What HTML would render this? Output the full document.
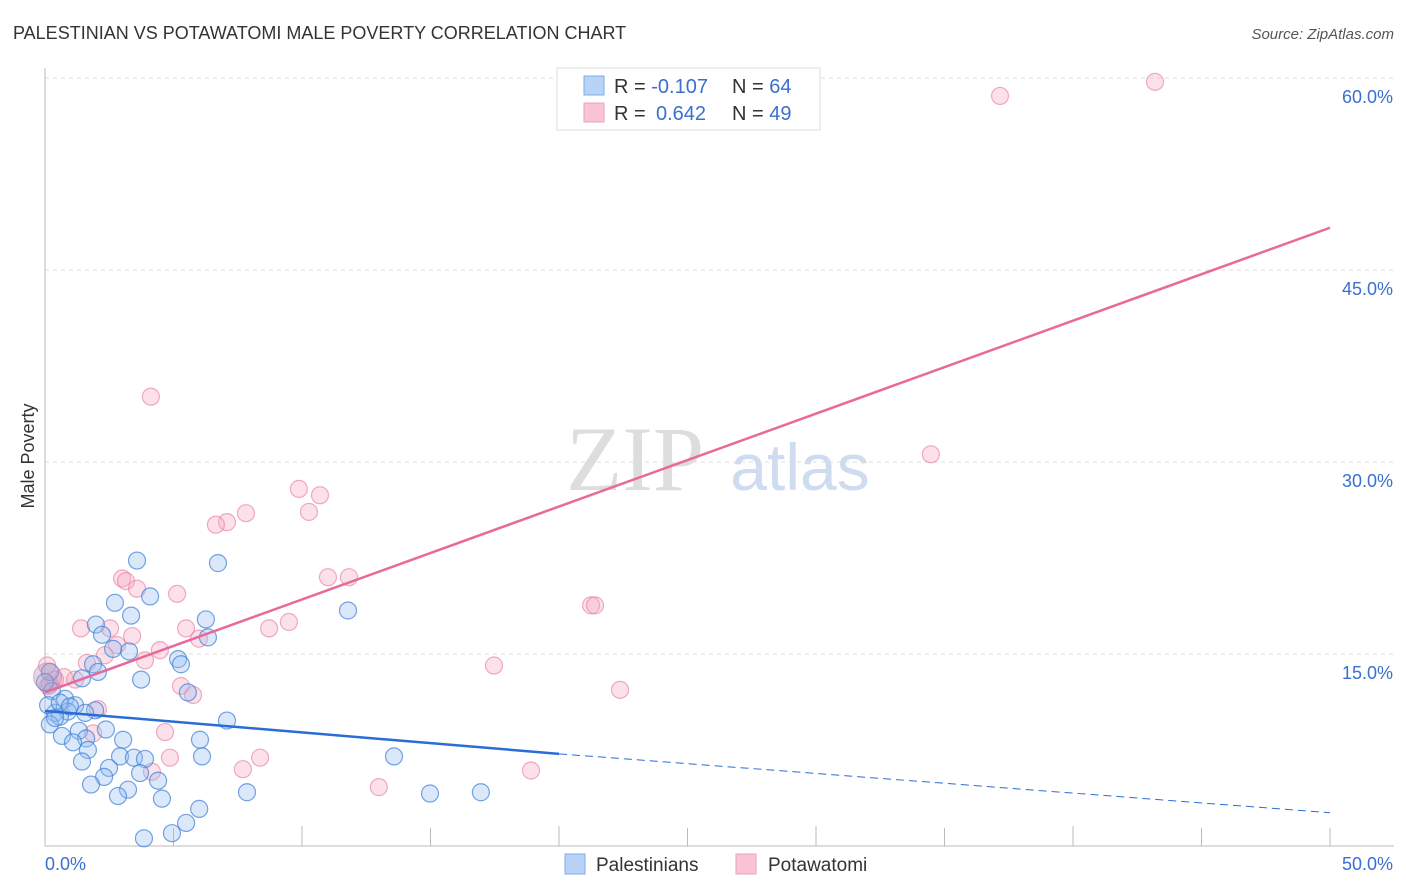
<!DOCTYPE html>
<html><head><meta charset="utf-8"><style>
body{margin:0;background:#fff;font-family:"Liberation Sans",sans-serif}
svg{display:block}
</style></head><body>
<svg id="c" width="1406" height="892">
<text x="13" y="39" font-size="18" fill="#333">PALESTINIAN VS POTAWATOMI MALE POVERTY CORRELATION CHART</text>
<text x="1394" y="39" font-size="15" fill="#555" text-anchor="end" font-style="italic">Source: ZipAtlas.com</text>
<text x="34" y="456" font-size="18" fill="#333" text-anchor="middle" transform="rotate(-90 34 456)">Male Poverty</text>
<g><text x="635" y="490" font-size="92" fill="#ddd" text-anchor="middle" font-family="Liberation Serif,serif">ZIP</text><text x="800" y="490" font-size="66" fill="#cfdcf0" text-anchor="middle">atlas</text></g>
<g id="grid"></g><g id="axes"></g><g id="pts"></g><g id="trend"></g>
<g>
<rect x="557" y="68" width="263" height="62" fill="#fff" stroke="#ddd"/>
<rect x="584" y="76" width="20" height="19" fill="#b8d3f5" stroke="#7aaee8"/>
<rect x="584" y="103" width="20" height="19" fill="#f9c4d4" stroke="#eea0b8"/>
<text x="614" y="93" font-size="20" fill="#333">R = <tspan fill="#3a6fd0">-0.107</tspan><tspan x="732">N = </tspan><tspan fill="#3a6fd0">64</tspan></text>
<text x="614" y="120" font-size="20" fill="#333">R = <tspan x="656" fill="#3a6fd0">0.642</tspan><tspan x="732">N = </tspan><tspan fill="#3a6fd0">49</tspan></text>
</g>
<g>
<rect x="565" y="854" width="20" height="20" fill="#b8d3f5" stroke="#7aaee8"/>
<text x="596" y="871" font-size="19" fill="#333">Palestinians</text>
<rect x="736" y="854" width="20" height="20" fill="#f9c4d4" stroke="#eea0b8"/>
<text x="768" y="871" font-size="19" fill="#333">Potawatomi</text>
</g>
</svg>
<script>
const yTicks=[15,30,45,60];
const yTickLabels=["15.0%","30.0%","45.0%","60.0%"];
const xTicks=[0,5,10,15,20,25,30,35,40,45,50];
const blueX=[3.58,6.73,2.72,3.35,4.09,11.79,1.98,2.22,6.26,6.34,3.27,2.65,1.87,2.06,5.18,5.29,3.74,1.44,5.56,0.27,0.78,0.39,1.17,0.89,0.58,1.95,2.37,7.08,1.32,0.66,0.19,1.6,3.04,6.03,1.09,1.67,2.92,3.46,3.89,6.11,13.58,1.44,2.49,2.3,3.7,4.4,1.79,3.23,2.84,4.55,7.86,14.98,16.96,6.0,5.49,3.85,4.94,0.39,0.12,0.58,0.97,1.56,0.19,0.0];
const blueY=[22.3,22.1,19.0,18.0,19.5,18.4,17.3,16.5,17.7,16.3,15.2,15.4,14.2,13.6,14.6,14.2,13.0,13.1,12.0,12.1,11.5,10.4,11.0,10.5,10.1,10.6,9.1,9.8,9.0,8.6,9.5,8.4,8.3,8.3,8.1,7.5,7.0,6.9,6.8,7.0,7.0,6.6,6.1,5.4,5.7,5.1,4.8,4.4,3.9,3.7,4.2,4.1,4.2,2.9,1.8,0.6,1.0,10.0,11.0,11.2,10.9,10.4,13.6,12.8];
const pinkX=[43.19,37.16,4.12,34.47,9.88,10.7,7.82,7.08,6.65,10.27,3.0,3.15,3.58,11.01,11.83,5.14,21.25,21.4,1.4,2.53,8.72,9.49,5.49,3.39,2.8,5.99,4.47,2.33,3.89,1.63,0.08,0.74,0.19,0.39,17.47,5.29,5.76,22.375,2.06,4.67,1.87,4.86,8.37,7.7,4.16,18.91,12.99,1.17,0.12];
const pinkY=[59.7,58.6,35.1,30.6,27.9,27.4,26.0,25.3,25.1,26.1,20.9,20.7,20.1,21.0,21.0,19.7,18.8,18.8,17.0,17.0,17.0,17.5,17.0,16.4,15.7,16.2,15.3,14.9,14.5,14.3,14.1,13.2,12.6,13.0,14.1,12.5,11.8,12.2,10.7,8.9,8.8,6.9,6.9,6.0,5.8,5.9,4.6,13.0,12.5];
const blueTrend=[[0,10.55],[20,7.2]], blueDash=[[20,7.2],[50,2.6]];
const pinkTrend=[[0,12.0],[50,48.3]];
const NS="http://www.w3.org/2000/svg";
const X=v=>45+v/50*1285, Y=v=>846-v/15*192;
function mk(t,a,p){const e=document.createElementNS(NS,t);for(const k in a)e.setAttribute(k,a[k]);p.appendChild(e);return e;}
const grid=document.getElementById('grid'),axes=document.getElementById('axes'),pts=document.getElementById('pts'),tr=document.getElementById('trend');
yTicks.forEach((t,i)=>{const l=mk('line',{x1:45,x2:1394,y1:Y(t),y2:Y(t),stroke:'#ddd','stroke-dasharray':'4,4'},grid);


const tx=mk('text',{x:1393,y:Y(t)+25,'font-size':18,fill:'#3a6fd0','text-anchor':'end'},axes);tx.textContent=yTickLabels[i];

});
mk('line',{x1:45,x2:45,y1:68,y2:846,stroke:'#bbb'},axes);
mk('line',{x1:45,x2:1394,y1:846,y2:846,stroke:'#bbb'},axes);
xTicks.forEach(t=>{const l=mk('line',{x1:X(t),x2:X(t),y1:846,y2:t%10==0&&t>0&&t<50?826:828,stroke:'#bbb'},axes);

});
let a=mk('text',{x:45,y:870,'font-size':18,fill:'#3a6fd0'},axes);a.textContent='0.0%';


a=mk('text',{x:1393,y:870,'font-size':18,fill:'#3a6fd0','text-anchor':'end'},axes);a.textContent='50.0%';


pinkX.forEach((v,i)=>{const c=mk('circle',{cx:X(v),cy:Y(pinkY[i]),r:8.5,fill:'rgba(247,170,195,0.35)',stroke:'rgba(230,120,155,0.6)','stroke-width':1.2},pts);

});
blueX.forEach((v,i)=>{const c=mk('circle',{cx:X(v),cy:Y(blueY[i]),r:8.5,fill:'rgba(150,190,240,0.35)',stroke:'rgba(60,125,215,0.7)','stroke-width':1.2},pts);

});
const big=mk('circle',{cx:X(0.1),cy:Y(13.2),r:14,fill:'rgba(190,150,190,0.4)',stroke:'rgba(190,120,160,0.5)'},pts);


let l=mk('line',{x1:X(blueTrend[0][0]),y1:Y(blueTrend[0][1]),x2:X(blueTrend[1][0]),y2:Y(blueTrend[1][1]),stroke:'#2a6dd6','stroke-width':2.5},tr);


l=mk('line',{x1:X(blueDash[0][0]),y1:Y(blueDash[0][1]),x2:X(blueDash[1][0]),y2:Y(blueDash[1][1]),stroke:'#2a6dd6','stroke-width':1,'stroke-dasharray':'8,5'},tr);


l=mk('line',{x1:X(pinkTrend[0][0]),y1:Y(pinkTrend[0][1]),x2:X(pinkTrend[1][0]),y2:Y(pinkTrend[1][1]),stroke:'#e8699a','stroke-width':2.5},tr);


</script>
</body></html>
